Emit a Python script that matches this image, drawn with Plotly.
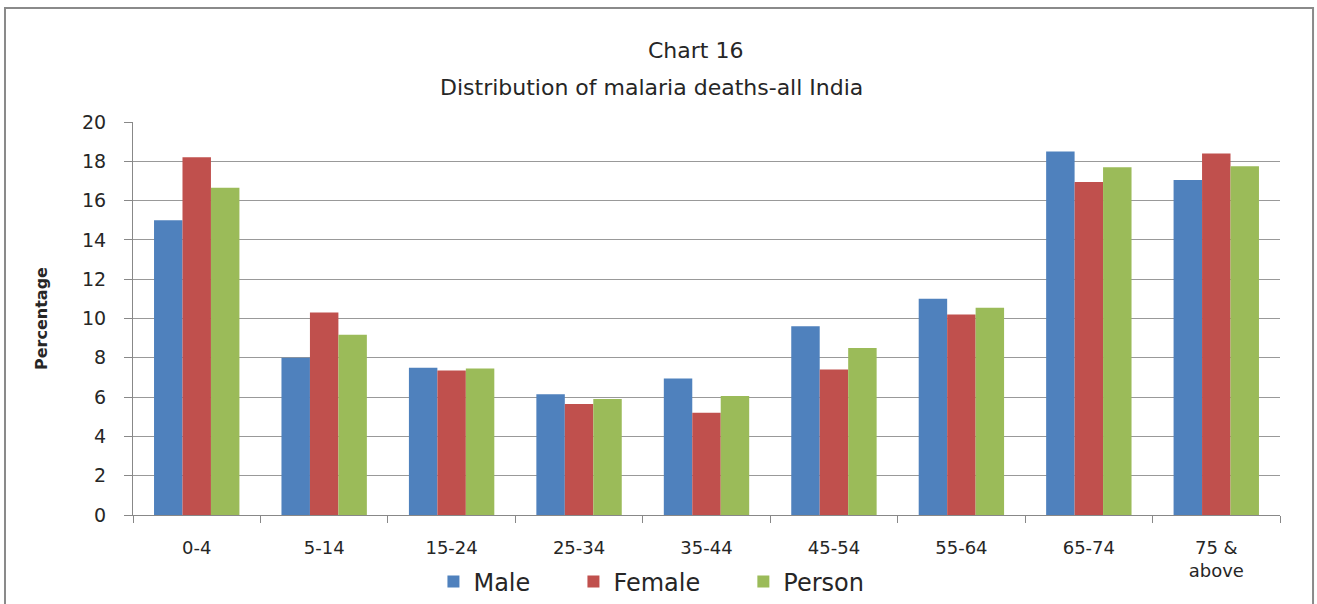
import plotly.graph_objects as go

age_groups = ["0-4", "5-14", "15-24", "25-34", "35-44", "45-54", "55-64", "65-74", "75 &<br>above"]
male = [15.0, 8.0, 7.5, 6.15, 6.95, 9.6, 11.0, 18.5, 17.05]
female = [18.2, 10.3, 7.35, 5.65, 5.2, 7.4, 10.2, 16.95, 18.4]
person = [16.65, 9.17, 7.45, 5.9, 6.05, 8.5, 10.55, 17.7, 17.75]

FONT = "DejaVu Sans, sans-serif"
PAD = "\u00a0" * 5  # extra room between legend entries

fig = go.Figure()
for name, vals, col in [("Male" + PAD, male, "#4F81BD"), ("Female" + PAD, female, "#C0504D"),
                        ("Person", person, "#9BBB59")]:
    fig.add_trace(go.Bar(x=age_groups, y=vals, name=name, marker=dict(color=col, line=dict(width=0))))

fig.update_layout(
    width=1317,
    height=604,
    barmode="group",
    bargap=0.33,
    bargroupgap=0,
    plot_bgcolor="white",
    paper_bgcolor="white",
    margin=dict(l=133, r=37, t=122, b=89, autoexpand=False),
    font=dict(family=FONT, color="#262626"),
    legend=dict(
        orientation="h", x=0.452, xanchor="center", y=-0.17, yanchor="middle",
        font=dict(size=24, family=FONT),
    ),
    annotations=[
        dict(text="Chart 16", x=0.49, y=1.183, xref="paper", yref="paper", yanchor="middle",
             showarrow=False, font=dict(size=22, family=FONT)),
        dict(text="Distribution of malaria deaths-all India", x=0.452, y=1.089, xref="paper", yref="paper",
             yanchor="middle", showarrow=False, font=dict(size=22, family=FONT)),
    ],
    shapes=[
        dict(type="rect", xref="paper", yref="paper", x0=-0.1116, x1=1.0288, y0=-0.25, y1=1.29,
             line=dict(color="#8a8a8a", width=2), fillcolor="rgba(0,0,0,0)", layer="below"),
    ],
)

fig.update_xaxes(
    showline=True, linecolor="#888", linewidth=1, automargin=False,
    ticks="outside", tickson="boundaries", ticklen=7, tickcolor="#888",
    tickfont=dict(size=18, family=FONT), showgrid=False, ticklabelstandoff=16,
)
fig.update_yaxes(
    range=[0, 20], dtick=2, showline=True, linecolor="#888", linewidth=1, automargin=False,
    ticks="outside", ticklen=8, tickcolor="#888", ticklabelstandoff=14,
    showgrid=True, gridcolor="#999", gridwidth=1,
    tickfont=dict(size=19, family=FONT), zeroline=False,
    title=dict(text="<b>Percentage</b>", font=dict(size=16, family=FONT), standoff=30),
)

fig.write_html("out.html", config={"displayModeBar": False},
               post_script="document.body.style.margin='0';")
